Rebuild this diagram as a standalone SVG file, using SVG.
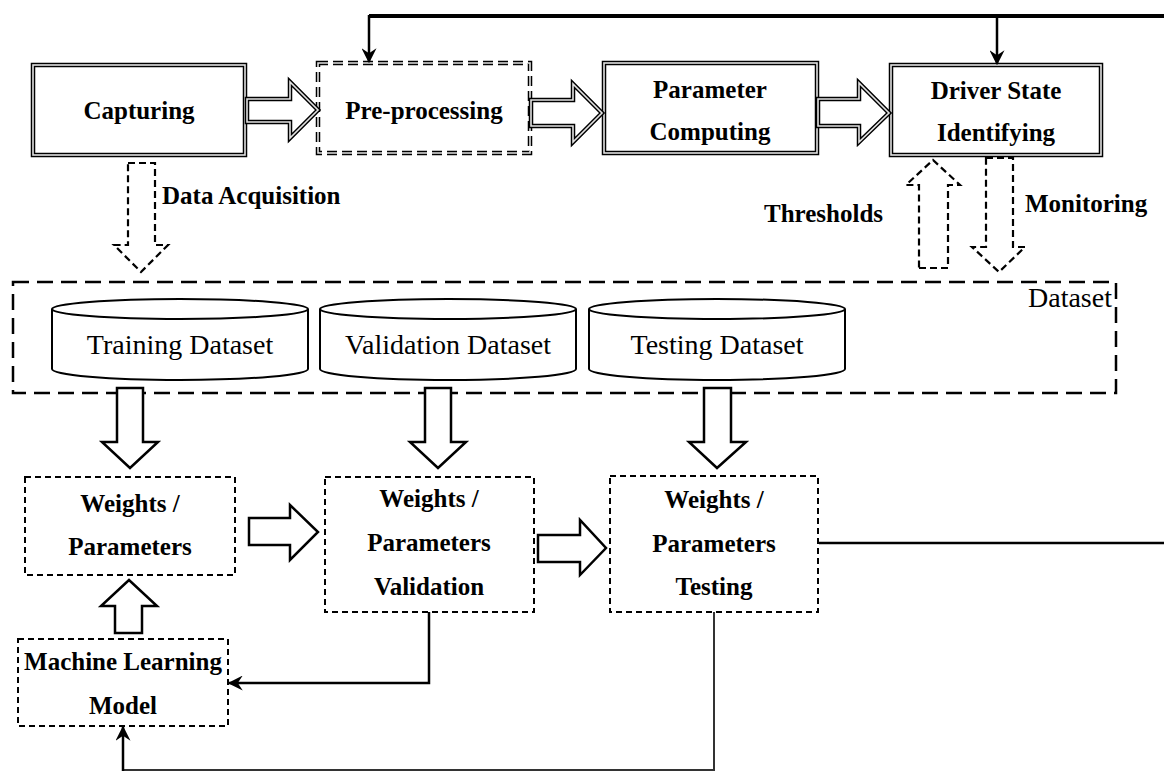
<svg xmlns="http://www.w3.org/2000/svg" width="1164" height="773" viewBox="0 0 1164 773">
<style>
  .lbl{font-family:"Liberation Serif","Times New Roman",serif;font-weight:bold;font-size:25px;fill:#000;text-anchor:middle}
  .lblL{font-family:"Liberation Serif","Times New Roman",serif;font-weight:bold;font-size:25px;fill:#000}
  .reg{font-family:"Liberation Serif","Times New Roman",serif;font-size:28px;fill:#000;text-anchor:middle}
  .dblO{fill:#fff;stroke:#000;stroke-width:4.5}
  .dblI{fill:none;stroke:#e2e2e2;stroke-width:1.6}
  .dashO{fill:#fff;stroke:#000;stroke-width:4.5;stroke-dasharray:10 5}
  .dashI{fill:none;stroke:#e2e2e2;stroke-width:1.6;stroke-dasharray:10 5}
  .box{fill:#fff;stroke:#000;stroke-width:2;stroke-dasharray:6 4}
  .harrow{fill:#fff;stroke:#000;stroke-width:2.5;stroke-linejoin:miter}
  .darrow{fill:#fff;stroke:#000;stroke-width:2.2;stroke-dasharray:7 4}
  .cyl{fill:#fff;stroke:#000;stroke-width:2}
  .line{fill:none;stroke:#000;stroke-width:2.5}
</style>
<defs>
  <marker id="ah2" viewBox="0 0 12 12" refX="11" refY="6" markerWidth="15" markerHeight="15" markerUnits="userSpaceOnUse" orient="auto">
    <path d="M0,0 L12,6 L0,12 L4,6 z" fill="#000"/>
  </marker>
</defs>

<!-- Dataset container -->
<g id="dataset">
  <rect x="13" y="282" width="1103" height="111" fill="none" stroke="#000" stroke-width="2.5" stroke-dasharray="16 8"/>
  <text class="reg" x="1070" y="307">Dataset</text>
</g>

<g id="training-dataset">
  <path class="cyl" d="M52,309 L52,369 A128,11 0 0 0 308,369 L308,309"/>
  <ellipse class="cyl" cx="180" cy="309" rx="128" ry="10"/>
  <text class="reg" x="180" y="354">Training Dataset</text>
</g>
<g id="validation-dataset">
  <path class="cyl" d="M320,309 L320,369 A128,11 0 0 0 576,369 L576,309"/>
  <ellipse class="cyl" cx="448" cy="309" rx="128" ry="10"/>
  <text class="reg" x="448" y="354">Validation Dataset</text>
</g>
<g id="testing-dataset">
  <path class="cyl" d="M589,309 L589,369 A128,11 0 0 0 845,369 L845,309"/>
  <ellipse class="cyl" cx="717" cy="309" rx="128" ry="10"/>
  <text class="reg" x="717" y="354">Testing Dataset</text>
</g>

<!-- Top row nodes -->
<g id="capturing">
  <rect class="dblO" x="33" y="65" width="212" height="90"/>
  <rect class="dblI" x="33" y="65" width="212" height="90"/>
  <text class="lbl" x="139" y="119">Capturing</text>
</g>
<g id="preprocessing">
  <rect class="dashO" x="318" y="63" width="212" height="90"/>
  <rect class="dashI" x="318" y="63" width="212" height="90"/>
  <text class="lbl" x="424" y="119">Pre-processing</text>
</g>
<g id="parameter-computing">
  <rect class="dblO" x="604" y="63" width="213" height="90"/>
  <rect class="dblI" x="604" y="63" width="213" height="90"/>
  <text class="lbl" x="710" y="98">Parameter</text>
  <text class="lbl" x="710" y="140">Computing</text>
</g>
<g id="driver-state">
  <rect class="dblO" x="891" y="65" width="210" height="90"/>
  <rect class="dblI" x="891" y="65" width="210" height="90"/>
  <text class="lbl" x="996" y="99">Driver State</text>
  <text class="lbl" x="996" y="141">Identifying</text>
</g>

<!-- Lower nodes -->
<g id="weights-parameters">
  <rect class="box" x="25" y="477" width="210" height="98"/>
  <text class="lbl" x="130" y="512">Weights /</text>
  <text class="lbl" x="130" y="555">Parameters</text>
</g>
<g id="weights-validation">
  <rect class="box" x="325" y="477" width="209" height="135"/>
  <text class="lbl" x="429" y="507">Weights /</text>
  <text class="lbl" x="429" y="551">Parameters</text>
  <text class="lbl" x="429" y="595">Validation</text>
</g>
<g id="weights-testing">
  <rect class="box" x="610" y="476" width="208" height="136"/>
  <text class="lbl" x="714" y="508">Weights /</text>
  <text class="lbl" x="714" y="552">Parameters</text>
  <text class="lbl" x="714" y="595">Testing</text>
</g>
<g id="ml-model">
  <rect class="box" x="18" y="639" width="210" height="87"/>
  <text class="lbl" x="123" y="670">Machine Learning</text>
  <text class="lbl" x="123" y="714">Model</text>
</g>

<!-- Connectors -->
<g id="connectors">
  <polygon class="dblO" points="247,99 290,99 290,82 318,110 290,138 290,122 247,122"/>
  <polygon class="dblI" points="247,99 290,99 290,82 318,110 290,138 290,122 247,122"/>
  <polygon class="dblO" points="531,100 573,100 573,84 602,113 573,142 573,126 531,126"/>
  <polygon class="dblI" points="531,100 573,100 573,84 602,113 573,142 573,126 531,126"/>
  <polygon class="dblO" points="818,99 859,99 859,83 889,113 859,142 859,126 818,126"/>
  <polygon class="dblI" points="818,99 859,99 859,83 889,113 859,142 859,126 818,126"/>

  <polygon class="darrow" points="128,163 155,163 155,245 168,245 141,272 114,245 128,245"/>
  <text class="lblL" x="162" y="204">Data Acquisition</text>
  <polygon class="darrow" points="919,268 948,268 948,185 960,185 933,160 906,185 919,185"/>
  <text class="lblL" x="764" y="222">Thresholds</text>
  <polygon class="darrow" points="986,158 1013,158 1013,247 1025,247 999,272 972,247 986,247"/>
  <text class="lblL" x="1025" y="212">Monitoring</text>

  <polygon class="harrow" points="117,388 143,388 143,442 158,442 130,468 102,442 117,442"/>
  <polygon class="harrow" points="425,388 451,388 451,442 466,442 438,468 410,442 425,442"/>
  <polygon class="harrow" points="704,388 731,388 731,442 746,442 717,468 689,442 704,442"/>

  <polygon class="harrow" points="249,518 290,518 290,505 318,532 290,560 290,545 249,545"/>
  <polygon class="harrow" points="538,535 580,535 580,520 606,548 580,575 580,562 538,562"/>
  <polygon class="harrow" points="115,633 142,633 142,606 157,606 129,580 101,606 115,606"/>

  <line x1="369" y1="16" x2="1164" y2="16" stroke="#000" stroke-width="4"/>
  <line class="line" x1="369" y1="15" x2="369" y2="62" marker-end="url(#ah2)"/>
  <line class="line" x1="997" y1="15" x2="997" y2="64" marker-end="url(#ah2)"/>
  <line class="line" x1="819" y1="543" x2="1164" y2="543"/>
  <polyline class="line" points="429,612 429,683 229,683" marker-end="url(#ah2)"/>
  <polyline fill="none" stroke="#333" stroke-width="2" points="714,612 714,770 123,770"/>
  <line class="line" x1="123" y1="771" x2="123" y2="727" marker-end="url(#ah2)"/>
</g>
</svg>
